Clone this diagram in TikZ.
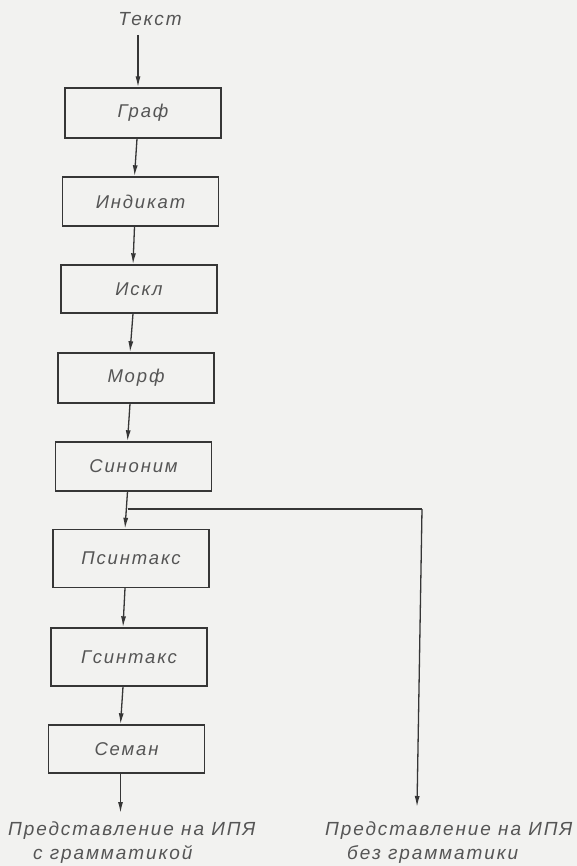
\documentclass[tikz,border=0pt]{standalone}
\usepackage{fontspec}
\newfontfamily\drafting{Liberation Sans}[LetterSpace=10]
\usetikzlibrary{arrows.meta}
\definecolor{paper}{HTML}{F2F2F0}
\definecolor{ink}{HTML}{363636}
\definecolor{textink}{HTML}{555555}
\tikzset{
  stage/.style={draw=ink, line width=1.4pt, rectangle, inner sep=0pt,
    minimum width=156pt, font=\drafting\itshape\fontsize{18.5}{24}\selectfont, text=textink},
  label/.style={font=\drafting\itshape\fontsize{19}{24}\selectfont, text=textink, inner sep=0pt},
  flow/.style={draw=ink, line width=1.3pt, -{Latex[length=11pt,width=5pt]}},
  line/.style={draw=ink, line width=1.3pt}
}
\begin{document}
\begin{tikzpicture}[x=1pt, y=-1pt]
  \fill[paper] (0,0) rectangle (577,866);
  \useasboundingbox (0,0) rectangle (577,866);

  % input label
  \node[label] (tekst) at (150,19) {Текст};

  % processing stages
  \node[stage, minimum height=50pt] (graf) at (143,113)   {Граф};
  \node[stage, minimum height=49pt] (ind)  at (140.5,201.5) {Индикат};
  \node[stage, minimum height=48pt] (iskl) at (139,289)   {Искл};
  \node[stage, minimum height=50pt] (morf) at (136,378)   {Морф};
  \node[stage, minimum height=49pt] (sin)  at (133.5,466.5) {Синоним};
  \node[stage, minimum height=58pt] (psin) at (131,558.5) {Псинтакс};
  \node[stage, minimum height=58pt] (gsin) at (129,657)   {Гсинтакс};
  \node[stage, minimum height=48pt] (sem)  at (126.5,749) {Семан};

  % outputs
  \node[label, align=left, anchor=west] (outA) at (8,843)
    {Представление на ИПЯ\\\hspace*{25pt}с грамматикой};
  \node[label, align=left, anchor=west] (outB) at (325,843)
    {Представление на ИПЯ\\\hspace*{22pt}без грамматики};

  % branch points
  \coordinate (split)  at (127.5,509);
  \coordinate (corner) at (422,509);
  \coordinate (tipA)   at (120.5,813);
  \coordinate (tipB)   at (417,807);

  % main chain
  \draw[flow] ([xshift=-12pt,yshift=-9pt]tekst.south) -- ([xshift=-5pt]graf.north);
  \draw[flow] ([xshift=-6pt]graf.south) -- ([xshift=-6pt]ind.north);
  \draw[flow] ([xshift=-6pt]ind.south)  -- ([xshift=-6pt]iskl.north);
  \draw[flow] ([xshift=-6pt]iskl.south) -- ([xshift=-6pt]morf.north);
  \draw[flow] ([xshift=-6pt]morf.south) -- ([xshift=-6pt]sin.north);
  \draw[flow] ([xshift=-6pt]sin.south)  -- ([xshift=-6pt]psin.north);
  \draw[flow] ([xshift=-6pt]psin.south) -- ([xshift=-6pt]gsin.north);
  \draw[flow] ([xshift=-6pt]gsin.south) -- ([xshift=-6pt]sem.north);
  \draw[flow] ([xshift=-6pt]sem.south)  -- (tipA);

  % bypass to the output without grammar
  \draw[line] (split) -- (corner);
  \draw[flow] (corner) -- (tipB);
\end{tikzpicture}
\end{document}
